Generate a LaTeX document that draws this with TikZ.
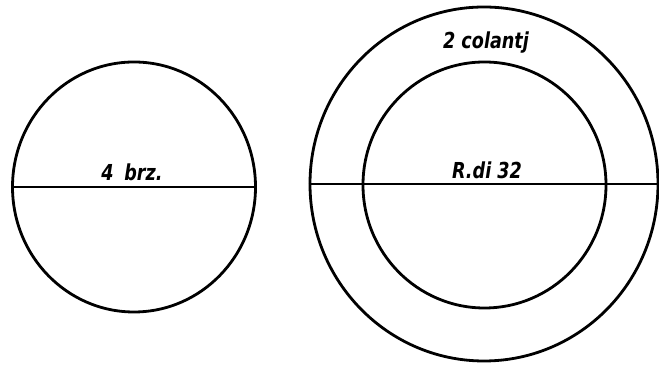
\documentclass[tikz,border=0pt]{standalone}
\usepackage{fontspec}
\setsansfont{DejaVu Sans}
\usetikzlibrary{shapes.geometric}
\begin{document}
\begin{tikzpicture}[x=1pt,y=1pt,
  ring/.style={draw=black,ellipse,line width=2.8pt,inner sep=0pt},
  rule/.style={draw=black,line width=2.8pt},
  hand/.style={font=\sffamily\itshape\bfseries\fontsize{22}{22}\selectfont,inner sep=0pt,xscale=0.8}]
\useasboundingbox (0,0) rectangle (659,371);
\fill[white] (0,0) rectangle (659,371);
\node[ring,minimum width=243pt,minimum height=250pt] (c1) at (134,184) {};
\node[ring,minimum width=348pt,minimum height=354pt] (c2) at (484,187) {};
\node[ring,minimum width=243pt,minimum height=246pt] (c3) at (484.5,186) {};
\coordinate (rend) at (659,187);
\draw[rule] (c1.west) -- (c1.east);
\draw[rule] (c2.west) -- (rend);
\node[hand,anchor=base] (t1) at (132,190) {4\hspace{0.6em}brz.};
\node[hand,anchor=base] (t2) at (487,192) {R.di 32};
\node[hand,anchor=base] (t3) at (486,322) {2 colantj};
\end{tikzpicture}
\end{document}
